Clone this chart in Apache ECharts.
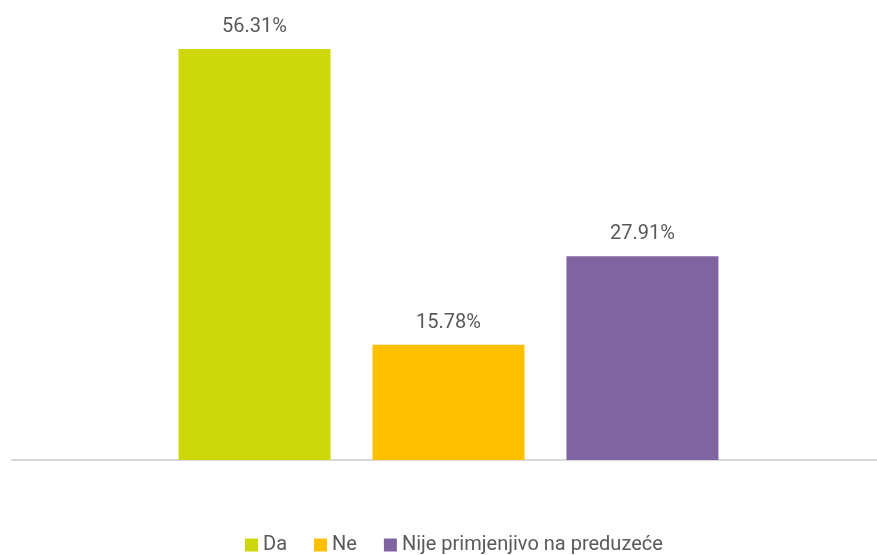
<!DOCTYPE html>
<html>
<head>
<meta charset="utf-8">
<script src="https://cdn.jsdelivr.net/npm/echarts@6/dist/echarts.min.js"></script>
<style>
  html, body { margin: 0; padding: 0; background: #fff; }
  #chart { width: 877px; height: 555px; }
</style>
</head>
<body>
<div id="chart"></div>
<script>
// data
const categories = ['']
const seriesNames = ['Da', 'Ne', 'Nije primjenjivo na preduzeće']
const seriesValues = [56.31, 15.78, 27.91]
const colorList = ['#CDD70A', '#FFC000', '#8064A2']

let myChart = echarts.init(document.getElementById('chart'))

let series = seriesNames.map((name, i) => ({
  name: name,
  type: 'bar',
  xAxisIndex: 1,
  yAxisIndex: 1,
  data: [seriesValues[i]],
  barWidth: 152,
  barGap: '27.6%',
  itemStyle: { color: colorList[i] },
  label: {
    show: true,
    position: 'top',
    distance: 12,
    fontFamily: 'Roboto',
    fontSize: 20,
    color: '#595959',
    formatter: p => p.value.toFixed(2) + '%'
  }
}))

myChart.setOption({
  animation: false,
  // grid 0 only carries the base line, grid 1 holds the bars
  grid: [
    { top: 22, left: 12, right: 0, bottom: 95 },
    { top: 22, left: 20, right: 0, bottom: 95 }
  ],
  legend: {
    left: 240,
    top: 530,
    itemWidth: 13,
    itemHeight: 13,
    itemGap: 27,
    icon: 'rect',
    textStyle: {
      fontFamily: 'Roboto',
      fontSize: 20,
      color: '#595959'
    },
    data: seriesNames
  },
  xAxis: [
    {
      type: 'category',
      gridIndex: 0,
      data: categories,
      axisLine: { lineStyle: { color: '#d9d9d9', width: 2 } },
      axisTick: { show: false },
      axisLabel: { show: false }
    },
    {
      type: 'category',
      gridIndex: 1,
      data: categories,
      axisLine: { show: false },
      axisTick: { show: false },
      axisLabel: { show: false }
    }
  ],
  yAxis: [
    { type: 'value', gridIndex: 0, min: 0, max: 60, show: false },
    { type: 'value', gridIndex: 1, min: 0, max: 60, show: false }
  ],
  series: series
})
</script>
</body>
</html>
